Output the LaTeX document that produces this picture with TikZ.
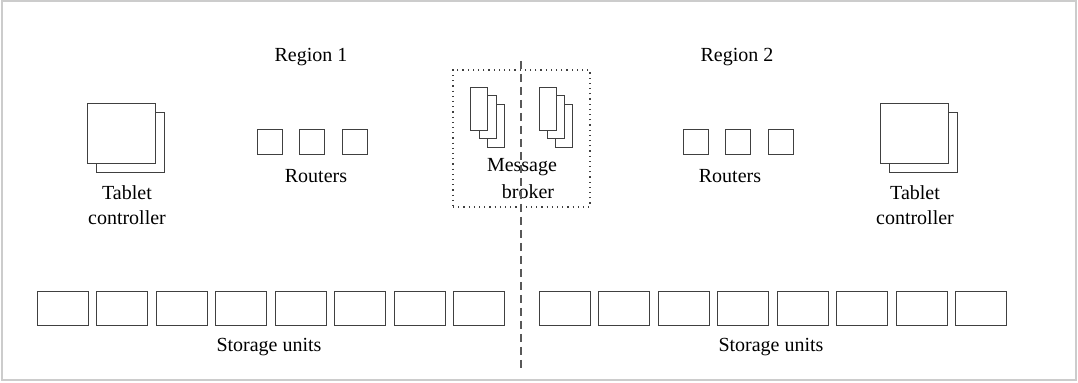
\documentclass[tikz,border=0pt]{standalone}
\usepackage{fontspec}
\setmainfont{Liberation Serif}
\usetikzlibrary{positioning}

\begin{document}
\begin{tikzpicture}[x=0.5pt,y=-0.5pt,
    box/.style={draw=black!75,line width=0.5pt,fill=white,inner sep=0pt},
    unit/.style={box,minimum width=25.5pt,minimum height=17pt},
    router/.style={box,minimum size=12.5pt},
    sheet/.style={box,minimum width=34pt,minimum height=30pt},
    msg/.style={box,minimum width=8.5pt,minimum height=21.5pt},
    lbl/.style={font=\fontsize{10}{12.5}\selectfont,align=center,inner sep=0pt}]
                      \useasboundingbox (0,0) rectangle (1078,383);
                      \draw[black!20,line width=1pt] (2,1.5) rectangle (1076,380.5);

                      % region titles
                      \node[lbl] (regA) at (311,57) {Region 1};
                      \node[lbl] (regB) at (737,57) {Region 2};

                      % tablet controllers
                      \node[sheet] (tcA2) at (130,142.5) {};
                      \node[sheet] (tcA1) at (121.5,134) {};
                      \node[sheet] (tcB2) at (923,142.5) {};
                      \node[sheet] (tcB1) at (914.5,134) {};
                      \node[lbl] at (127,205) {Tablet\\controller};
                      \node[lbl] at (915,205) {Tablet\\controller};

                      % routers
                      \foreach \x/\n in {270/1,312/2,355/3}
                        \node[router] (rtA\n) at (\x,142) {};
                      \foreach \x/\n in {696/1,738/2,781/3}
                        \node[router] (rtB\n) at (\x,142) {};
                      \node[lbl] at (316,176) {Routers};
                      \node[lbl] at (730,176) {Routers};

                      % message broker
                      \node[draw=black!75,dotted,line width=0.6pt,minimum size=68.5pt] (mb) at (521.5,138.5) {};
                      \foreach \k in {2,1,0} {
                        \node[msg] (mbA\k) at ({479.2+8.3*\k},{109+8.4*\k}) {};
                        \node[msg] (mbB\k) at ({547.5+8.3*\k},{109+8.4*\k}) {};
                      }
                      \node[lbl] at (522,167) {Message};
                      \node[lbl] at (528,192) {broker};

                      % storage units
                      \foreach \i in {0,...,7} {
                        \node[unit] (suA\i) at ({62.5+59.5*\i},309) {};
                        \node[unit] (suB\i) at ({564.5+59.5*\i},309) {};
                      }
                      \node[lbl] at (269,347) {Storage units};
                      \node[lbl] at (771,347) {Storage units};

                      % cut between the regions
                      \coordinate (cutT) at (521,61);
                      \coordinate (cutB) at (521,371);
                      \draw[black!65,line width=0.6pt,dash pattern=on 4pt off 2.5pt] (cutT) -- (cutB);
                    \end{tikzpicture}
\end{document}
